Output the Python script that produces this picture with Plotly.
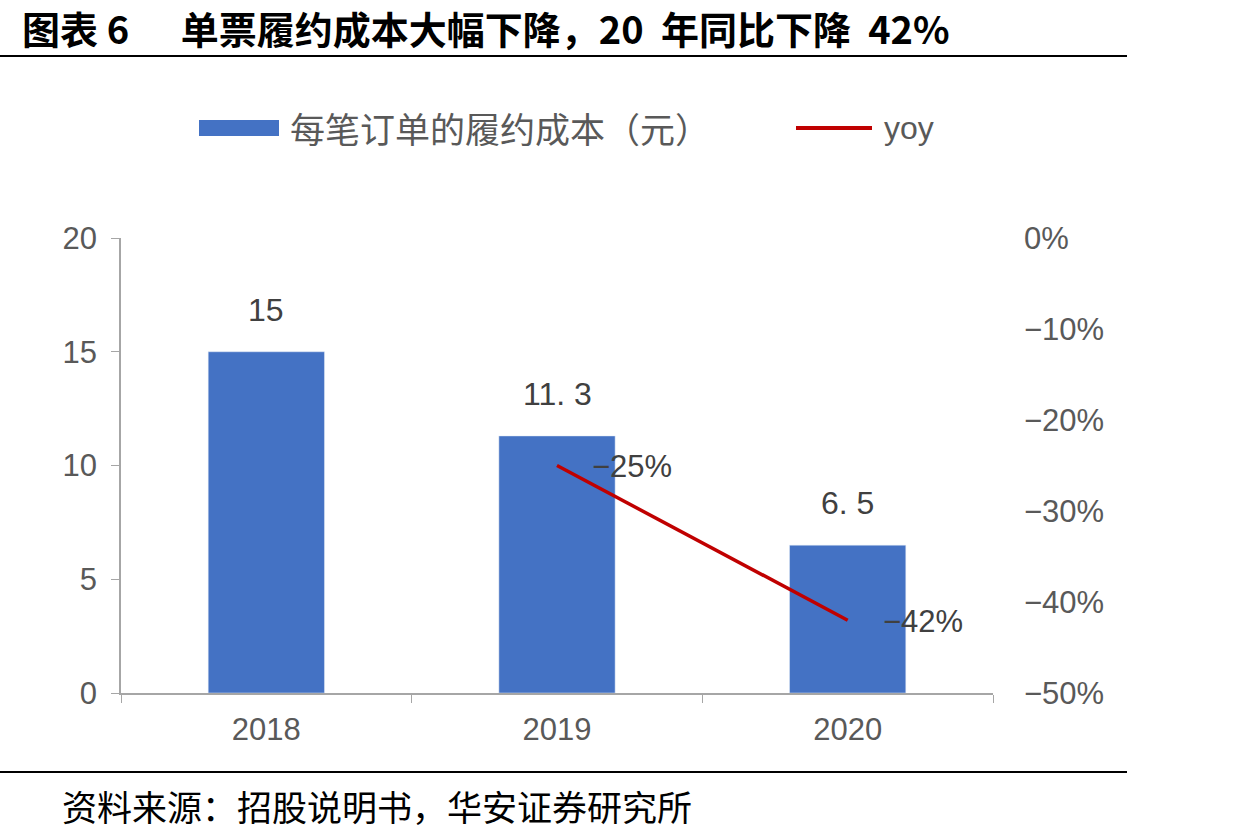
import plotly.graph_objects as go

years = ["2018", "2019", "2020"]
cost = [15, 11.3, 6.5]
cost_labels = ["15", "11. 3", "6. 5"]
yoy_years = ["2019", "2020"]
yoy = [-0.25, -0.42]
yoy_labels = ["−25%", "−42%"]

# plot area in pixels
W, H = 1260, 840
L, R, T, B = 121, 267, 238, 147
pw, ph = W - L - R, H - T - B

def px(x):
    return (x - L) / pw

def py(y):
    return (H - B - y) / ph

CJK = "Noto Sans CJK SC"
NUM = "Liberation Sans, Arial, sans-serif"
GREY = "#595959"

fig = go.Figure()
fig.add_trace(go.Bar(x=years, y=cost, marker_color="#4472C4", width=0.4,
                     name="每笔订单的履约成本（元）", showlegend=False, yaxis="y"))
fig.add_trace(go.Scatter(x=yoy_years, y=yoy, mode="lines", line=dict(color="#C00000", width=3.5),
                         name="yoy", showlegend=False, yaxis="y2"))

ann = []
for x, v, t in zip(years, cost, cost_labels):
    ann.append(dict(x=years.index(x), y=v, xref="x", yref="y", text=t, showarrow=False, yshift=42,
                    font=dict(family=NUM, size=32, color="#404040")))
for x, v, t in zip(yoy_years, yoy, yoy_labels):
    ann.append(dict(x=years.index(x), y=v, xref="x", yref="y2", text=t, showarrow=False, xanchor="left",
                    xshift=33, yshift=-1, font=dict(family=NUM, size=31, color="#404040")))

# title, source
ann.append(dict(x=px(20), y=py(27), xref="paper", yref="paper", xanchor="left", yanchor="middle",
                text="<b>图表 6      单票履约成本大幅下降，20  年同比下降  42%</b>", showarrow=False,
                font=dict(family=CJK, size=38, color="#000000")))
ann.append(dict(x=px(60), y=py(805), xref="paper", yref="paper", xanchor="left", yanchor="middle",
                text="资料来源：招股说明书，华安证券研究所", showarrow=False,
                font=dict(family=CJK, size=35, color="#000000")))
# custom legend
ann.append(dict(x=px(288), y=py(128), xref="paper", yref="paper", xanchor="left", yanchor="middle",
                text="每笔订单的履约成本（元）", showarrow=False,
                font=dict(family=CJK, size=35, color=GREY)))
ann.append(dict(x=px(882), y=py(128), xref="paper", yref="paper", xanchor="left", yanchor="middle",
                text="yoy", showarrow=False,
                font=dict(family=NUM, size=32, color=GREY)))

shapes = [
    dict(type="line", xref="paper", yref="paper", x0=px(0), x1=px(1127), y0=py(56), y1=py(56),
         line=dict(color="#000000", width=2)),
    dict(type="line", xref="paper", yref="paper", x0=px(0), x1=px(1127), y0=py(772), y1=py(772),
         line=dict(color="#000000", width=2)),
    dict(type="rect", xref="paper", yref="paper", x0=px(199), x1=px(279), y0=py(136), y1=py(120),
         fillcolor="#4472C4", line=dict(width=0)),
    dict(type="line", xref="paper", yref="paper", x0=px(796), x1=px(872), y0=py(128), y1=py(128),
         line=dict(color="#C00000", width=4)),
]

fig.update_layout(
    width=W, height=H,
    margin=dict(l=L, r=R, t=T, b=B),
    paper_bgcolor="white", plot_bgcolor="white",
    showlegend=False,
    xaxis=dict(type="category", range=[-0.5, 2.5], showline=True, linecolor="#A6A6A6", linewidth=1.5,
               ticks="outside", tickson="boundaries", ticklen=8, tickcolor="#A6A6A6",
               tickfont=dict(family=NUM, size=31, color=GREY), showgrid=False, ticklabelstandoff=8),
    yaxis=dict(range=[0, 20], dtick=5, showline=True, linecolor="#A6A6A6", linewidth=1.5,
               ticks="outside", ticklen=8, tickcolor="#A6A6A6", showgrid=False, zeroline=False,
               tickfont=dict(family=NUM, size=31, color=GREY), ticklabelstandoff=8),
    yaxis2=dict(range=[-0.5, 0], dtick=0.1, tickformat=".0%", overlaying="y", side="right",
                showline=False, showgrid=False, zeroline=False, ticks="",
                tickfont=dict(family=NUM, size=31, color=GREY), ticklabelstandoff=30),
    annotations=ann, shapes=shapes,
)

fig.write_html("out.html")
